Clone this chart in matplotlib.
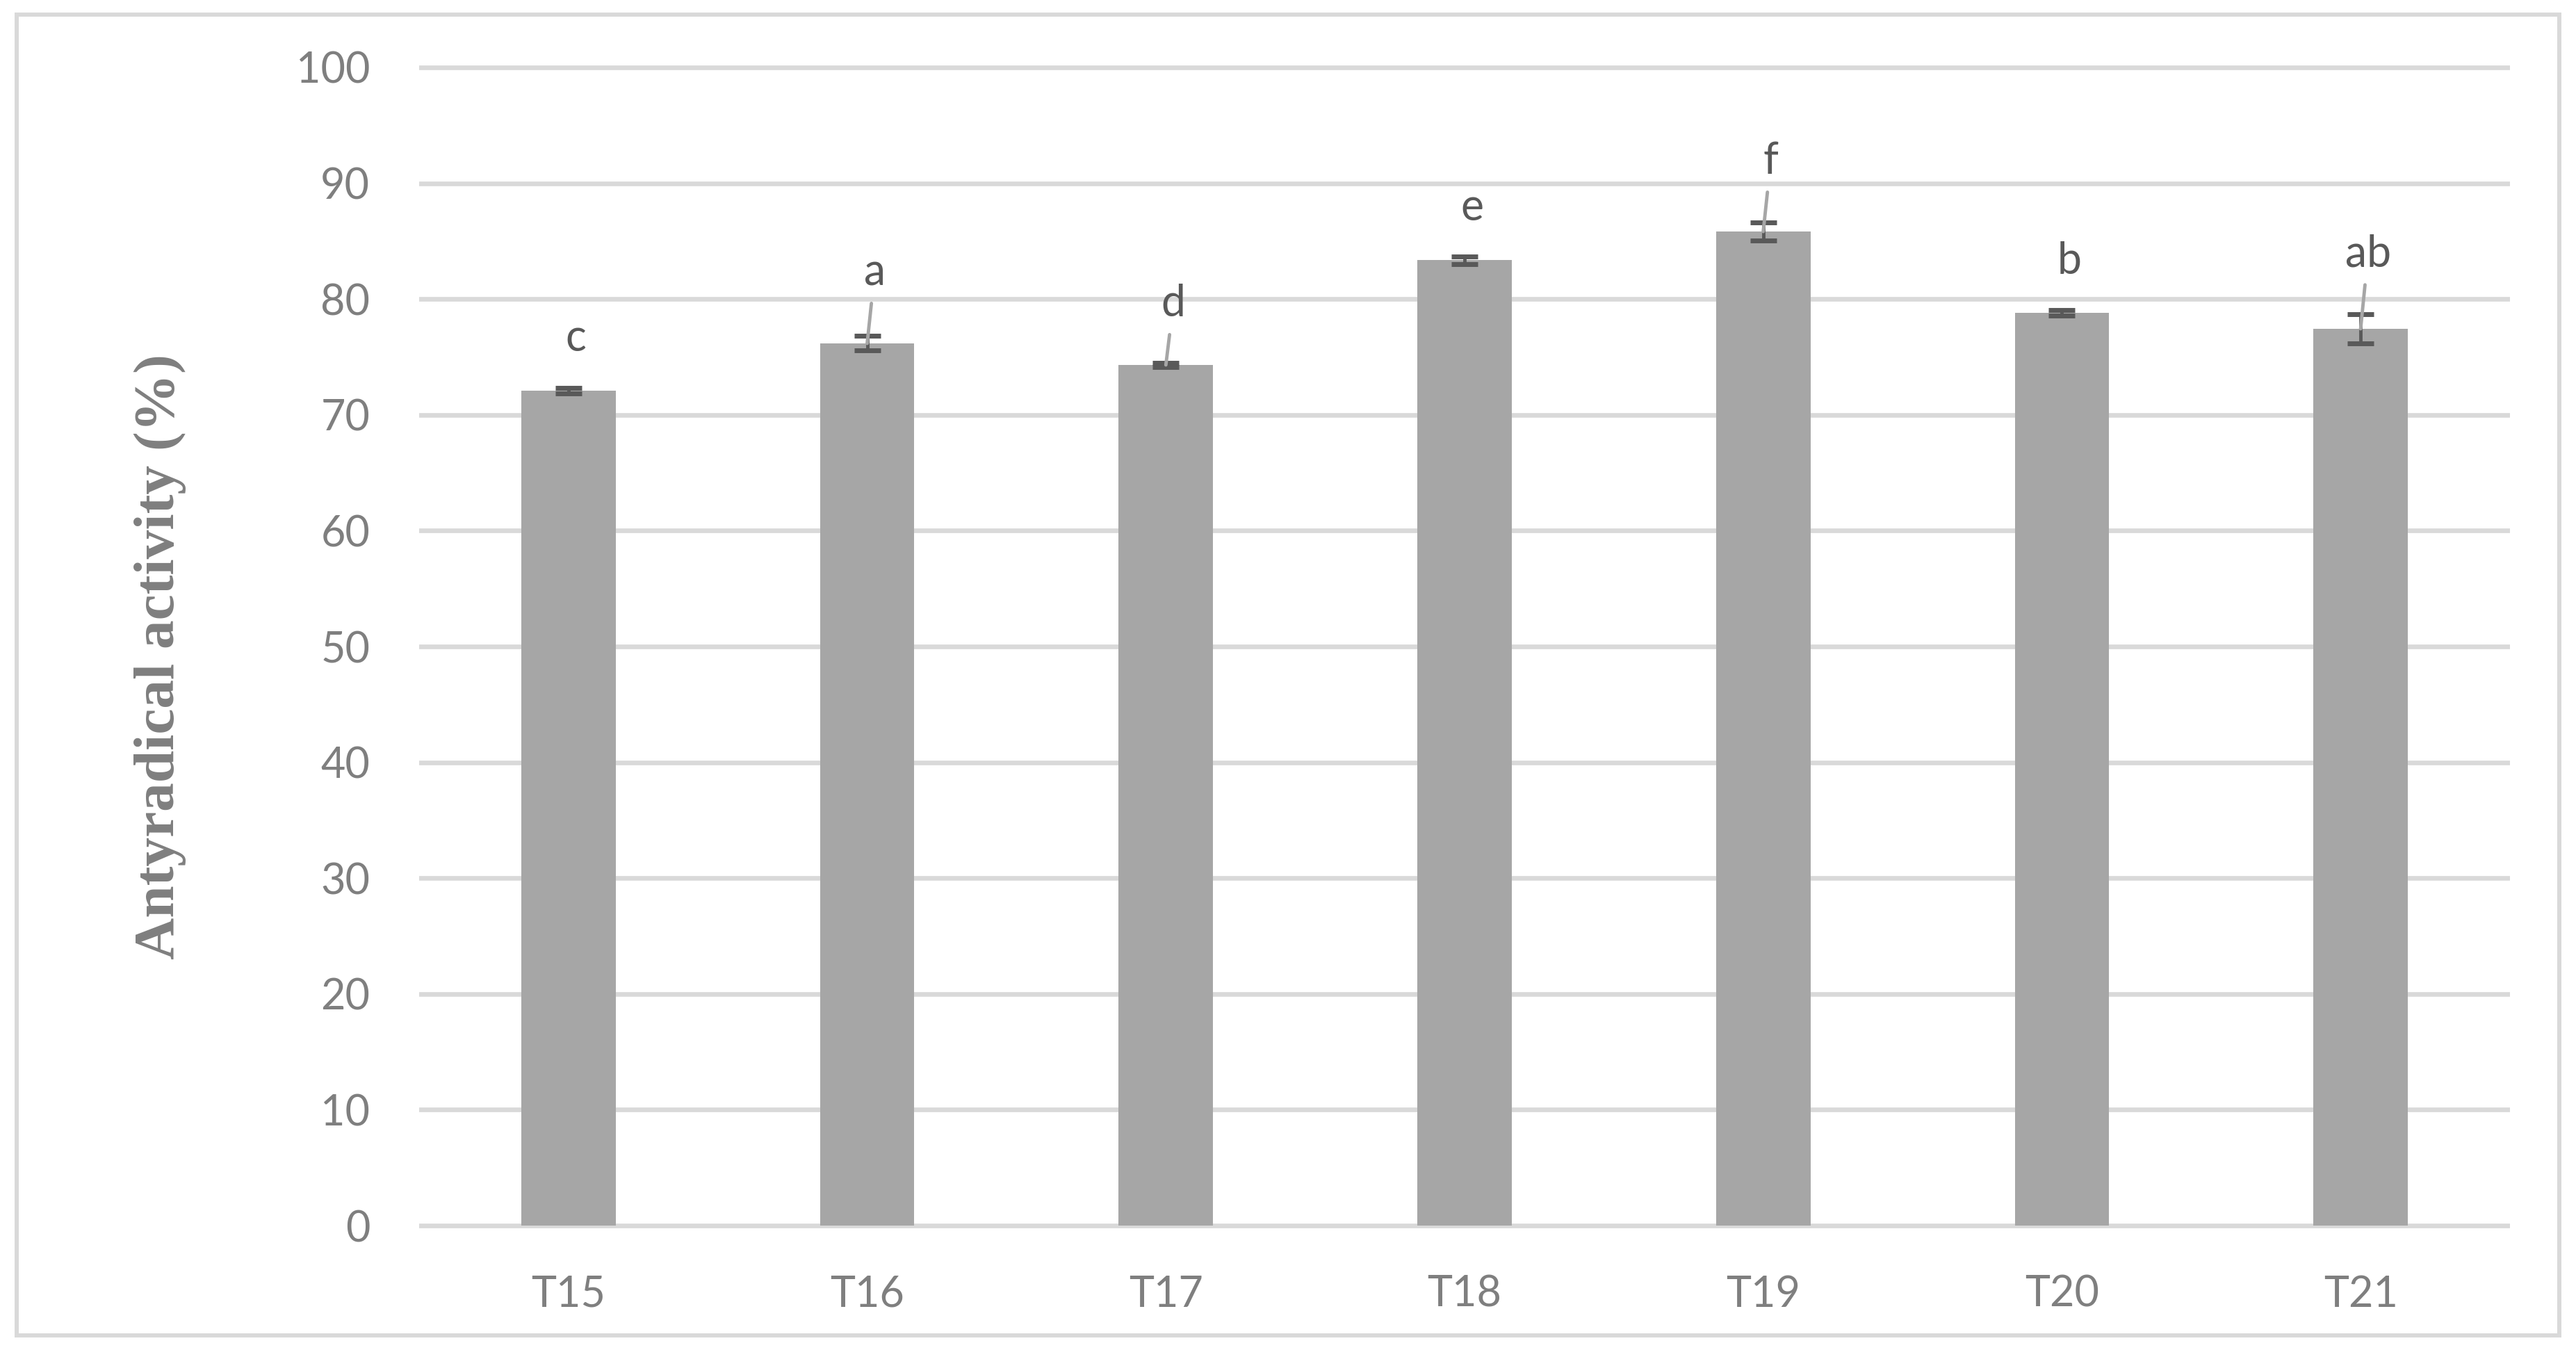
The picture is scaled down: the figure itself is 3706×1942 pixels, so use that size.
import matplotlib
matplotlib.use("Agg")
import matplotlib.pyplot as plt
from matplotlib.patches import Rectangle

# data
treatments = ["T15", "T16", "T17", "T18", "T19", "T20", "T21"]
activity = [72.09, 76.17, 74.31, 83.37, 85.83, 78.81, 77.43]
errors = [0.25, 0.63, 0.2, 0.33, 0.8, 0.25, 1.25]
letters = ["c", "a", "d", "e", "f", "b", "ab"]
letter_y = [75.5, 81.2, 78.5, 86.8, 90.8, 82.2, 82.8]
has_leader = [False, True, True, False, True, False, True]

bar_color = "#a6a6a6"
err_color = "#595959"
grid_color = "#d9d9d9"
tick_color = "#7f7f7f"

fig = plt.figure(figsize=(37.06, 19.42), dpi=100)
ax = fig.add_axes([603 / 3706, 1 - 1769.7 / 1942, (3611 - 603) / 3706, (1769.7 - 90.3) / 1942])

x = list(range(len(treatments)))
ax.bar(x, activity, width=0.316, color=bar_color, zorder=2)
ax.errorbar(x, activity, yerr=errors, fmt="none", ecolor=err_color,
            elinewidth=3.5, capsize=14, capthick=5, zorder=3)

# letters, some with the thin leader line back to the bar top
for i in x:
    kw = {}
    if has_leader[i]:
        kw["arrowprops"] = dict(arrowstyle="-", color="#a6a6a6", lw=3.5,
                                shrinkA=9, shrinkB=0)
    ax.annotate(letters[i], xy=(i, activity[i]), xytext=(i + 0.025, letter_y[i]),
                ha="center", va="baseline", fontsize=45, family="Lato",
                color="#595959", zorder=4, **kw)

ax.set_xlim(-0.5, len(treatments) - 0.5)
ax.set_ylim(-0.4, 100.4)
ax.set_yticks(range(0, 101, 10))
ax.set_xticks(x)
ax.set_xticklabels(treatments)
for lab in ax.get_xticklabels() + ax.get_yticklabels():
    lab.set_family("Lato")
    lab.set_fontsize(44)
    lab.set_color(tick_color)
ax.tick_params(axis="y", length=0, pad=51)
ax.tick_params(axis="x", length=0, pad=46)
ax.grid(axis="y", color=grid_color, lw=4.8, zorder=0)
ax.set_axisbelow(True)
for s in ax.spines.values():
    s.set_visible(False)

fig.text(230 / 3706, 1 - 945 / 1942, "Antyradical activity (%)", rotation=90,
         ha="center", va="center", fontsize=60, fontweight="bold",
         family="Liberation Serif", color=tick_color)

fig.patches.append(Rectangle((24 / 3706, 21 / 1942), (3682 - 24) / 3706, (1921 - 21) / 1942,
                             transform=fig.transFigure, fill=False,
                             edgecolor=grid_color, lw=4.3))

fig.savefig("out.png", dpi=100, facecolor="white")
